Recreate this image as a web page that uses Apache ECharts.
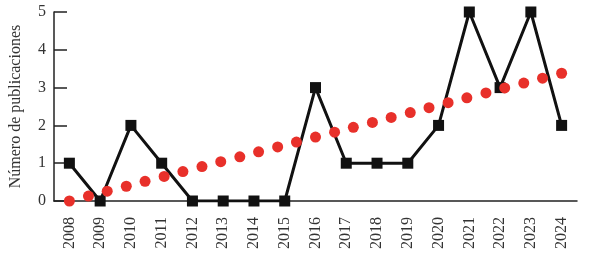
<!DOCTYPE html>
<html><head><meta charset="utf-8">
<script src="https://cdn.jsdelivr.net/npm/echarts@6/dist/echarts.min.js"></script>
<style>html,body{margin:0;padding:0;background:#fff}#c{width:589px;height:258px}</style>
</head><body><div id="c"></div>
<script>
const years = ['2008','2009','2010','2011','2012','2013','2014','2015','2016','2017','2018','2019','2020','2021','2022','2023','2024'];
const publications = [1,0,2,1,0,0,0,0,3,1,1,1,2,5,3,5,2];
const trendX = [2008.00,2008.62,2009.23,2009.85,2010.46,2011.08,2011.69,2012.31,2012.92,2013.54,2014.15,2014.77,2015.38,2016.00,2016.62,2017.23,2017.85,2018.46,2019.08,2019.69,2020.31,2020.92,2021.54,2022.15,2022.77,2023.38,2024.00];
const trendY = [0.00,0.13,0.26,0.39,0.52,0.65,0.78,0.91,1.04,1.17,1.30,1.43,1.56,1.69,1.82,1.95,2.08,2.21,2.34,2.47,2.60,2.73,2.86,2.99,3.12,3.25,3.38];
const yTicks = [0,1,2,3,4,5];

const chart = echarts.init(document.getElementById('c'));
const font = 'Liberation Serif';
chart.setOption({
  animation: false,
  grid: {left: 51, right: 12, top: 12, bottom: 57},
  xAxis: [{
    type: 'category', data: years, boundaryGap: true,
    axisLine: {lineStyle: {color: '#222', width: 1.5}},
    axisTick: {inside: true, length: 4, lineStyle: {color: '#222', width: 1.5}},
    axisLabel: {rotate: 90, margin: 16, fontFamily: font, fontSize: 16, color: '#333'},
    splitLine: {show: false}
  }, {
    type: 'value', min: 2007.5, max: 2024.5, show: false
  }],
  yAxis: {
    type: 'value', min: yTicks[0], max: yTicks[yTicks.length-1], interval: 1,
    name: 'Número de publicaciones', nameLocation: 'middle', nameGap: 30,
    nameTextStyle: {fontFamily: font, fontSize: 16, color: '#333'},
    axisLine: {show: true, lineStyle: {color: '#222', width: 1.5}},
    axisTick: {show: true, inside: true, length: 13, lineStyle: {color: '#222', width: 1.5}},
    axisLabel: {margin: 8, fontFamily: font, fontSize: 16, color: '#333'},
    splitLine: {show: false}
  },
  series: [{
    type: 'line', xAxisIndex: 0, data: publications,
    symbol: 'rect', symbolSize: 11,
    lineStyle: {color: '#111', width: 3},
    itemStyle: {color: '#111'},
    z: 2
  }, {
    type: 'scatter', xAxisIndex: 1,
    data: trendX.map((x, i) => [x, trendY[i]]),
    symbol: 'circle', symbolSize: 11,
    itemStyle: {color: '#e8302a', opacity: 1},
    z: 3
  }]
});
</script></body></html>
